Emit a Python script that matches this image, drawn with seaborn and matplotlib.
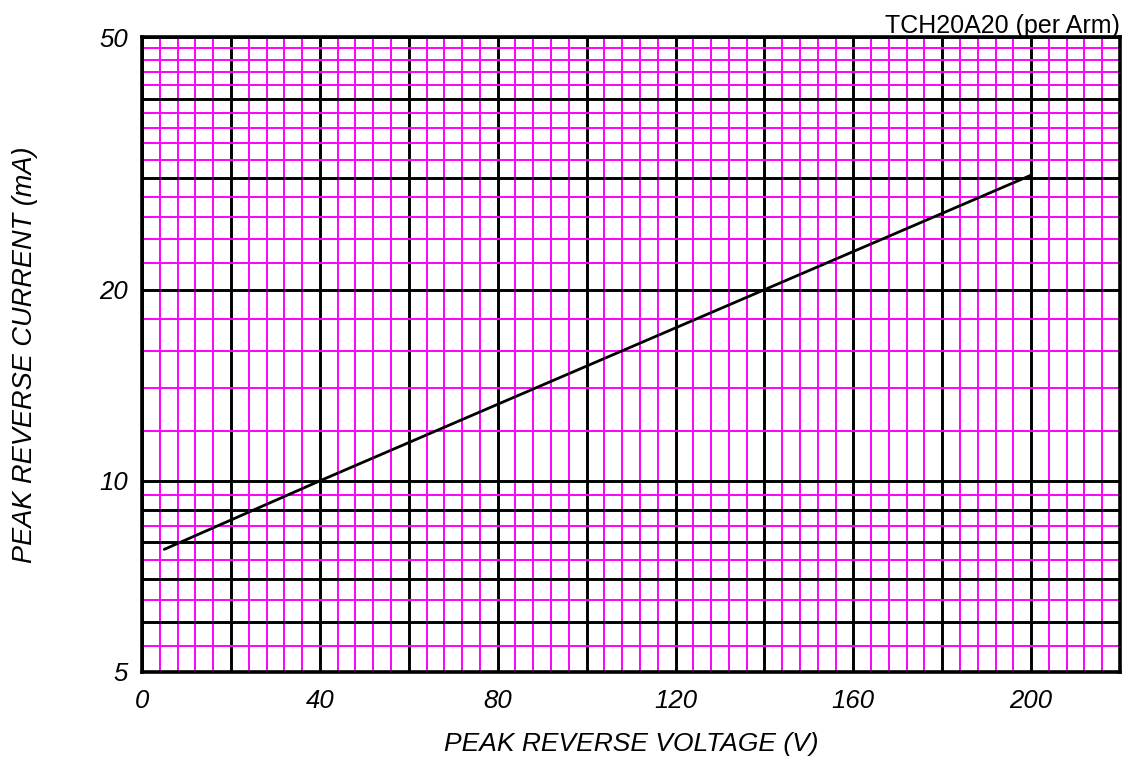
import matplotlib
matplotlib.use("Agg")
import matplotlib.pyplot as plt
import matplotlib.ticker as mticker
import seaborn as sns
import pandas as pd

# curve (per arm)
voltage = [5, 40, 80, 140, 200]
current = [7.8, 10, 13.2, 20, 30.3]

# grid / tick positions
x_major = list(range(0, 221, 20))
x_labels = [0, 40, 80, 120, 160, 200]
y_major = [5, 6, 7, 8, 9, 10, 20, 30, 40, 50]
y_minor = [5.5, 6.5, 7.5, 8.5, 9.5, 12, 14, 16, 18, 22, 24, 26, 28,
           32, 34, 36, 38, 42, 44, 46, 48]
y_labels = [5, 10, 20, 50]

sns.set_style("white")
plt.rcParams['font.family'] = ['Liberation Sans', 'DejaVu Sans']
plt.rcParams['text.color'] = 'black'
plt.rcParams['axes.labelcolor'] = 'black'
plt.rcParams['xtick.color'] = 'black'
plt.rcParams['ytick.color'] = 'black'

df = pd.DataFrame({"V": voltage, "I": current})

fig = plt.figure(figsize=(11.3, 7.65), dpi=100)
ax = fig.add_axes([0.1257, 0.1216, 0.8655, 0.83])

sns.lineplot(data=df, x="V", y="I", color="black", linewidth=2.0, ax=ax, zorder=5)

ax.set_yscale("log")
ax.set_xlim(0, 220)
ax.set_ylim(5, 50)

ax.xaxis.set_major_locator(mticker.FixedLocator(x_major))
ax.xaxis.set_minor_locator(mticker.MultipleLocator(4))
ax.xaxis.set_major_formatter(mticker.FuncFormatter(
    lambda v, p: f"{int(round(v))}" if int(round(v)) in x_labels else ""))
ax.xaxis.set_minor_formatter(mticker.NullFormatter())

ax.yaxis.set_major_locator(mticker.FixedLocator(y_major))
ax.yaxis.set_minor_locator(mticker.FixedLocator(y_minor))
ax.yaxis.set_major_formatter(mticker.FuncFormatter(
    lambda v, p: f"{int(round(v))}" if int(round(v)) in y_labels else ""))
ax.yaxis.set_minor_formatter(mticker.NullFormatter())

ax.grid(which="minor", color="#FF00FF", linewidth=1.4)
ax.grid(which="major", color="black", linewidth=2.1)

ax.tick_params(which="both", length=0)
ax.tick_params(axis="x", pad=12, labelsize=18.5)
ax.tick_params(axis="y", pad=10, labelsize=18.5)
for lab in ax.get_xticklabels() + ax.get_yticklabels():
    lab.set_fontstyle("italic")

for s in ax.spines.values():
    s.set_color("black")
    s.set_linewidth(2.6)

ax.set_xlabel("PEAK REVERSE VOLTAGE (V)", fontsize=19, fontstyle="italic", labelpad=14)
ax.set_ylabel("PEAK REVERSE CURRENT (mA)", fontsize=19.5, fontstyle="italic", labelpad=44)
ax.set_title("TCH20A20 (per Arm)", loc="right", fontsize=18, pad=3)

fig.savefig("out.png", dpi=100)
